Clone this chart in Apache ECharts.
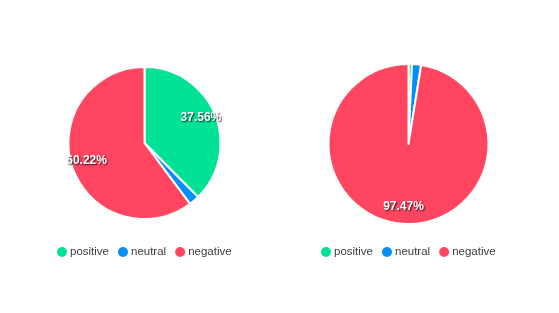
<!DOCTYPE html>
<html><head><meta charset="utf-8">
<script src="https://cdn.jsdelivr.net/npm/echarts@6/dist/echarts.min.js"></script>
<style>html,body{margin:0;padding:0;background:#fff}#c{width:559px;height:313px}</style>
</head><body><div id="c"></div>
<script>
const categories = ['positive', 'neutral', 'negative'];
const leftValues = [37.56, 2.22, 60.22];
const rightValues = [0.70, 1.83, 97.47];
const colors = ['#00E396', '#008FFB', '#FF4560'];

function mk(vals) { return categories.map((n, i) => ({ name: n, value: vals[i], itemStyle: { color: colors[i] } })); }
function mkT(vals) { return categories.map((n, i) => ({ name: n, value: vals[i] })); }

const labelStyle = {
  show: true, position: 'inside', color: '#fff', fontSize: 12, fontWeight: 'bold',
  fontFamily: 'Liberation Sans, Arial, sans-serif',
  textShadowColor: 'rgba(0,0,0,0.8)', textShadowBlur: 1.5, textShadowOffsetX: 1, textShadowOffsetY: 1,
  formatter: p => p.value >= 3 ? p.value.toFixed(2) + '%' : ''
};

function legend(x) {
  return {
    data: categories, left: x, top: 245, padding: 0, icon: 'circle', itemWidth: 12, itemHeight: 12, itemGap: 7,
    textStyle: { fontSize: 11.5, color: '#373d3f', fontFamily: 'Liberation Sans, Arial, sans-serif', padding: [0, 0, 0, -3] }
  };
}

const chart = echarts.init(document.getElementById('c'), null, { renderer: 'canvas' });
chart.setOption({
  animation: false,
  legend: [legend(55), legend(319)],
  series: [
    { type: 'pie', center: [144.5, 143], radius: 76, data: mk(leftValues), label: { show: false }, labelLine: { show: false },
      itemStyle: { borderColor: '#fff', borderWidth: 2 }, emphasis: { disabled: true } },
    { type: 'pie', center: [408.5, 144], radius: 80, data: mk(rightValues), label: { show: false }, labelLine: { show: false },
      itemStyle: { borderColor: '#fff', borderWidth: 2 }, emphasis: { disabled: true } },
    { type: 'pie', center: [144.5, 141], radius: [40, 76], data: mkT(leftValues), silent: true, z: 5,
      itemStyle: { color: 'transparent', borderWidth: 0 }, label: labelStyle, labelLine: { show: false } },
    { type: 'pie', center: [408.5, 144], radius: [40, 80], data: mkT(rightValues), silent: true, z: 5,
      itemStyle: { color: 'transparent', borderWidth: 0 }, label: labelStyle, labelLine: { show: false } }
  ]
});
</script></body></html>
